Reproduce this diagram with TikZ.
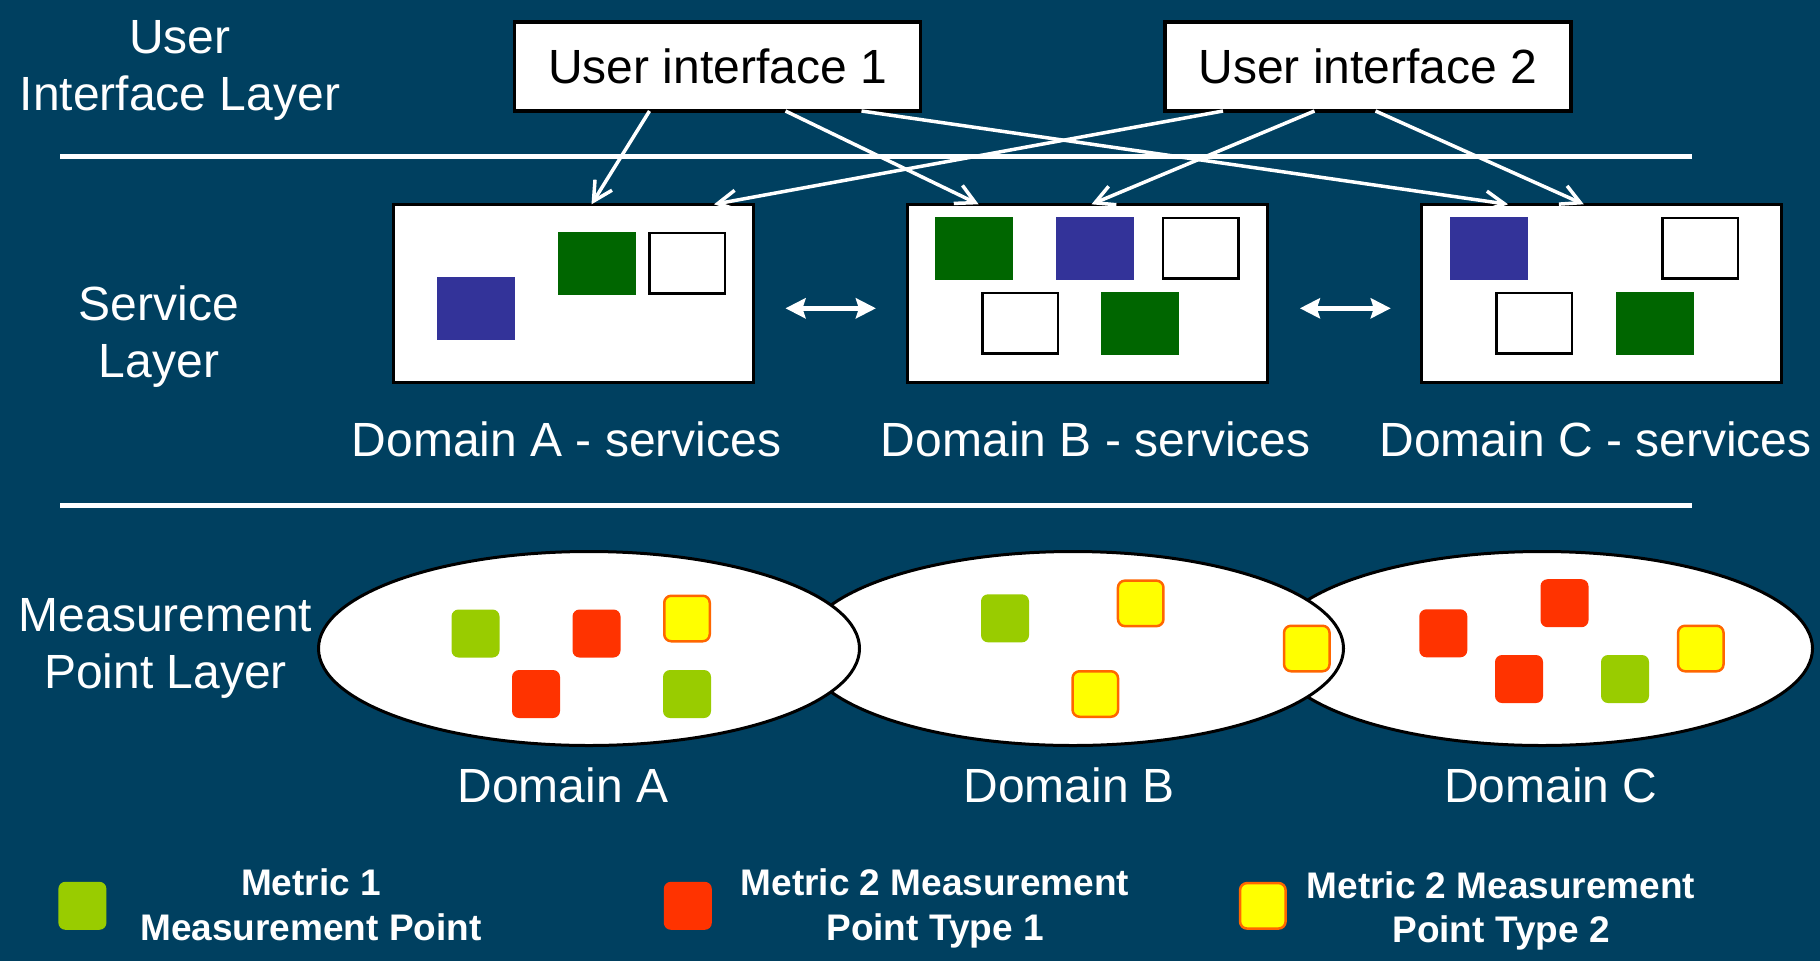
\documentclass[tikz,border=0pt]{standalone}
\usepackage{fontspec}
\setmainfont{Liberation Sans}
\usetikzlibrary{arrows.meta,shapes.geometric}
\definecolor{bg}{RGB}{0,64,96}
\definecolor{svcgreen}{RGB}{0,102,0}
\definecolor{svcblue}{RGB}{51,51,153}
\definecolor{mgreen}{RGB}{153,204,0}
\definecolor{mred}{RGB}{255,51,0}
\definecolor{myellow}{RGB}{255,255,0}
\definecolor{morange}{RGB}{255,102,0}
\begin{document}
\begin{tikzpicture}[x=1pt,y=-1pt,
  uibox/.style={draw=black,fill=white,line width=3.5pt,minimum width=406pt,minimum height=89pt,inner sep=0pt,outer sep=0pt,font=\fontsize{48}{56}\selectfont},
  svcbox/.style={draw=black,fill=white,line width=3pt,minimum width=360pt,minimum height=178pt,inner sep=0pt,outer sep=0pt},
  blk/.style={minimum width=78pt,minimum height=63pt,inner sep=0pt,outer sep=0pt},
  gblk/.style={blk,fill=svcgreen},
  bblk/.style={blk,fill=svcblue},
  wblk/.style={blk,fill=white,draw=black,line width=2.5pt,minimum width=75.5pt,minimum height=60.5pt},
  mp/.style={minimum size=48pt,inner sep=0pt,outer sep=0pt,rounded corners=7pt},
  mpg/.style={mp,fill=mgreen},
  mpr/.style={mp,fill=mred},
  mpy/.style={mp,fill=myellow,draw=morange,line width=2.5pt,minimum size=45.5pt},
  dom/.style={ellipse,draw=black,fill=white,line width=3pt,minimum width=541pt,minimum height=194pt,inner sep=0pt,outer sep=0pt},
  lbl/.style={text=white,font=\fontsize{48}{57}\selectfont,align=center,inner sep=0pt},
  leg/.style={text=white,font=\bfseries\fontsize{37}{44.5}\selectfont,align=center,inner sep=0pt},
  conn/.style={draw=white,line width=3.5pt,-{Straight Barb[length=19pt,width=20pt]}},
  dbl/.style={draw=white,line width=4.5pt,{Stealth[length=20pt,width=20pt,inset=3pt]}-{Stealth[length=20pt,width=20pt,inset=3pt]}},
  sepline/.style={draw=white,line width=5pt}
]
\fill[bg] (0,0) rectangle (1820,961);
\useasboundingbox (0,0) rectangle (1820,961);

% layer labels
\node[lbl] (lui) at (180,70.5) {User\\Interface Layer};
\node[lbl] (lsvc) at (159,337) {Service\\Layer};
\node[lbl] (lmp) at (165.5,648.5) {Measurement\\Point Layer};

% separators
\coordinate (s1a) at (60,156.7);
\coordinate (s1b) at (1692,156.7);
\coordinate (s2a) at (60,505);
\coordinate (s2b) at (1692,505);
\draw[sepline] (s1a) -- (s1b);
\draw[sepline] (s2a) -- (s2b);

% user interfaces
\node[uibox] (ui1) at (717.5,66.5) {User interface 1};
\node[uibox] (ui2) at (1368,66.5) {User interface 2};

% service boxes
\node[svcbox] (sa) at (573.5,293.3) {};
\node[svcbox] (sb) at (1087.9,293.3) {};
\node[svcbox] (sc) at (1601.75,293.3) {};

\node[bblk] (sa1) at (475.6,308.6) {};
\node[gblk] (sa2) at (596.6,263.4) {};
\node[wblk] (sa3) at (687.4,263.2) {};

\node[gblk] (sb1) at (974.4,248.4) {};
\node[bblk] (sb2) at (1095.1,248.4) {};
\node[wblk] (sb3) at (1200.8,248.4) {};
\node[wblk] (sb4) at (1020.3,323.3) {};
\node[gblk] (sb5) at (1140.4,323.3) {};

\node[bblk] (sc1) at (1488.6,248.4) {};
\node[wblk] (sc2) at (1700.4,248.4) {};
\node[wblk] (sc3) at (1534.4,323.3) {};
\node[gblk] (sc4) at (1654.6,323.3) {};

\node[lbl,anchor=base] (ta) at (566.4,456.7) {Domain A - services};
\node[lbl,anchor=base] (tb) at (1095.7,456.7) {Domain B - services};
\node[lbl,anchor=base] (tc) at (1595.4,456.7) {Domain C - services};

% connectors
\draw[conn] ([xshift=-68pt]ui1.south) -- ([xshift=18pt]sa.north);
\draw[conn] ([xshift=68pt]ui1.south) -- ([xshift=-109.3pt]sb.north);
\draw[conn] ([xshift=144pt]ui1.south) -- ([xshift=-93.75pt]sc.north);
\draw[conn] ([xshift=-145pt]ui2.south) -- ([xshift=140.5pt]sa.north);
\draw[conn] ([xshift=-53.5pt]ui2.south) -- ([xshift=3.6pt]sb.north);
\draw[conn] ([xshift=7.5pt]ui2.south) -- ([xshift=-18pt]sc.north);

\draw[dbl,shorten <=32pt,shorten >=32pt] ([yshift=-15pt]sa.east) -- ([yshift=-15pt]sb.west);
\draw[dbl,shorten <=32pt,shorten >=31pt] ([yshift=-15pt]sb.east) -- ([yshift=-15pt]sc.west);

% measurement domains
\node[dom] (ec) at (1542,648.5) {};
\node[dom] (eb) at (1073,648.5) {};
\node[dom] (ea) at (589,648.5) {};

\node[mpg] (ma1) at (475.5,633.5) {};
\node[mpr] (ma2) at (596.5,633.5) {};
\node[mpy] (ma3) at (687,618.5) {};
\node[mpr] (ma4) at (536,694) {};
\node[mpg] (ma5) at (687,694) {};

\node[mpg] (mb1) at (1005,618.3) {};
\node[mpy] (mb2) at (1140.7,603.4) {};
\node[mpy] (mb3) at (1306.8,648.5) {};
\node[mpy] (mb4) at (1095.3,694) {};

\node[mpr] (mc1) at (1443.3,633.3) {};
\node[mpr] (mc2) at (1564.5,603.2) {};
\node[mpy] (mc3) at (1700.8,648.5) {};
\node[mpr] (mc4) at (1519,679) {};
\node[mpg] (mc5) at (1625,679) {};

\node[lbl,anchor=base] (da) at (563,802) {Domain A};
\node[lbl,anchor=base] (db) at (1069,802) {Domain B};
\node[lbl,anchor=base] (dc) at (1551,802) {Domain C};

% legend
\node[mpg] (lg1) at (82.4,905.8) {};
\node[mpr] (lg2) at (687.8,905.8) {};
\node[mpy] (lg3) at (1262.8,905.8) {};
\node[leg] (lt1) at (311,904.6) {Metric 1\\Measurement Point};
\node[leg] (lt2) at (935,908.5) {Metric 2 Measurement\\Point Type 1};
\node[leg] (lt3) at (1501,910.7) {Metric 2 Measurement\\Point Type 2};
\end{tikzpicture}
\end{document}
